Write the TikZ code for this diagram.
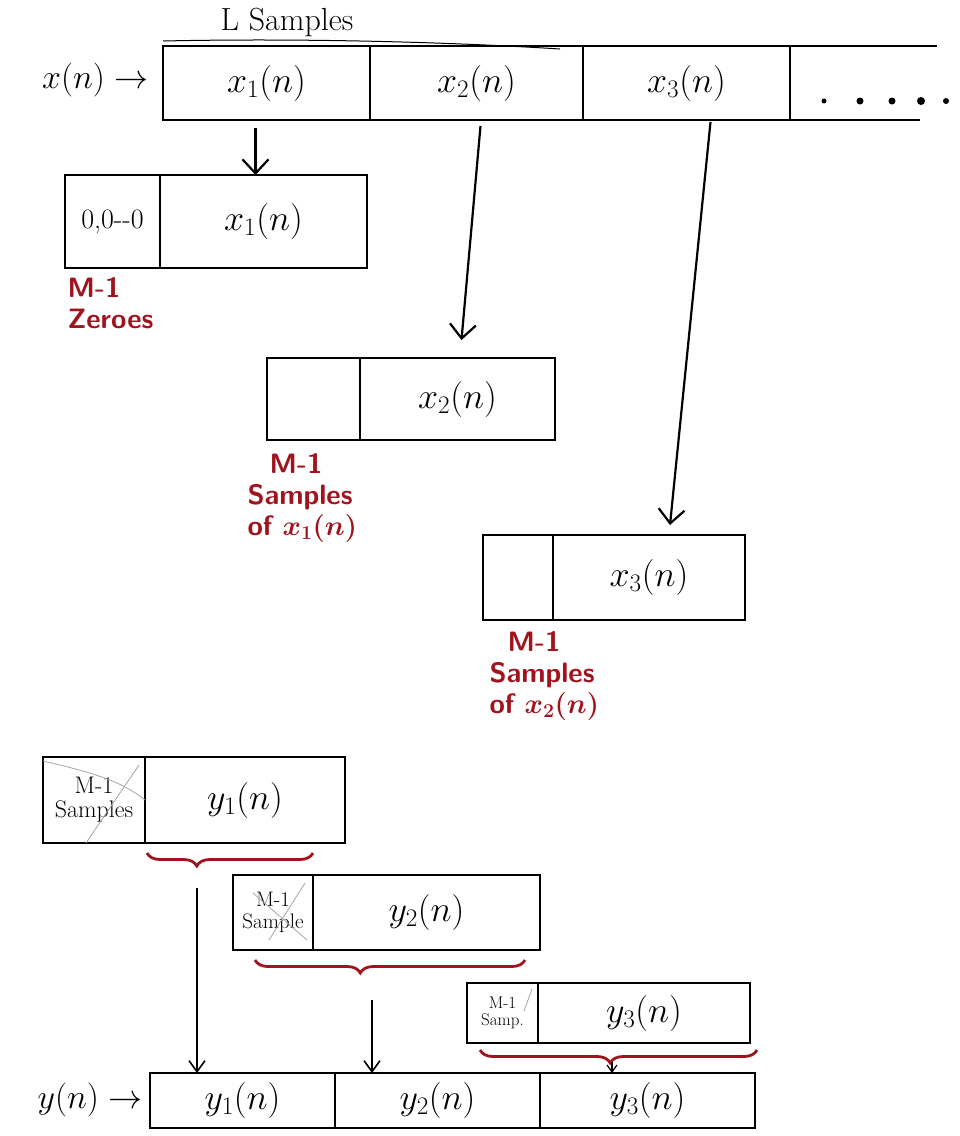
\RequirePackage{fix-cm}
\documentclass[tikz,border=0pt]{standalone}
\usetikzlibrary{arrows.meta,decorations.pathreplacing}
\definecolor{hred}{RGB}{160,20,30}
\definecolor{pencil}{RGB}{165,165,165}
\begin{document}
\begin{tikzpicture}[x=1pt,y=-1pt,
  cell/.style={draw, line width=2.6pt, inner sep=0pt, outer sep=0pt, anchor=north west, font=\fontsize{36}{40}\selectfont},
  smallcell/.style={cell, font=\fontsize{24}{24}\selectfont, align=center},
  lab/.style={font=\fontsize{34}{38}\selectfont},
  redlab/.style={text=hred, font=\fontsize{28}{31}\selectfont\sffamily\bfseries\boldmath, align=left},
  arr/.style={-{Straight Barb[length=14pt,width=26pt,line width=2.2pt]}, line width=2.2pt},
  sarr/.style={-{Straight Barb[length=11pt,width=16pt,line width=1.6pt]}, line width=1.6pt},
  brc/.style={draw=hred, line width=2.8pt, decorate, decoration={brace, mirror, amplitude=13pt, aspect=#1}},
  cross/.style={draw=pencil, line width=0.8pt},
]
\useasboundingbox (0,0) rectangle (960,1136);

% ---------- input sequence strip ----------
\node[font=\fontsize{32}{36}\selectfont] (Ls) at (287,22) {L Samples};
\draw[line width=1pt] (163,41) .. controls (300,38) and (450,42) .. (560,49);
\node[lab, anchor=east] (xin) at (152,80) {$x(n)\rightarrow$};
\node[cell, minimum width=207pt, minimum height=74pt] (x1) at (163,46) {$x_1(n)$};
\node[cell, minimum width=213pt, minimum height=74pt] (x2) at (x1.north east) {$x_2(n)$};
\node[cell, minimum width=207pt, minimum height=74pt] (x3) at (x2.north east) {$x_3(n)$};
\draw[line width=2.6pt] (x3.north east) -- ++(147,0);
\draw[line width=2.6pt] (x3.south east) -- ++(130,0);
\foreach \px/\r in {824/2.5, 860/3.5, 892/3.5, 921/4, 946/3}
  \fill (\px,101) circle (\r pt);

% ---------- block 1 ----------
\node[cell, minimum width=95pt, minimum height=93pt, font=\fontsize{28}{32}\selectfont] (b1l) at (65,175) {0,0-{}-0};
\node[cell, minimum width=207pt, minimum height=93pt] (b1r) at (b1l.north east) {$x_1(n)$};
\node[redlab, anchor=north west] (z1) at (64,274) {M-1\\Zeroes};

% ---------- block 2 ----------
\node[cell, minimum width=93pt, minimum height=82pt] (b2l) at (267,358) {};
\node[cell, minimum width=195pt, minimum height=82pt] (b2r) at (b2l.north east) {$x_2(n)$};
\node[redlab, anchor=north west] (z2) at (244,450) {\hspace*{22pt}M-1\\Samples\\of $x_1(n)$};

% ---------- block 3 ----------
\node[cell, minimum width=70pt, minimum height=85pt] (b3l) at (483,535) {};
\node[cell, minimum width=192pt, minimum height=85pt] (b3r) at (b3l.north east) {$x_3(n)$};
\node[redlab, anchor=north west] (z3) at (486,628) {\hspace*{18pt}M-1\\Samples\\of $x_2(n)$};

% ---------- arrows from the input strip ----------
\draw[arr] ([xshift=-11pt,yshift=-8pt]x1.south) -- ([xshift=-8pt]b1r.north);
\draw[arr] ([xshift=4pt,yshift=-6pt]x2.south) -- ([xshift=4pt,yshift=18pt]b2r.north);
\draw[arr] ([xshift=24pt,yshift=-2pt]x3.south) -- ([xshift=21pt,yshift=10pt]b3r.north);

% ---------- output blocks ----------
\node[smallcell, minimum width=102pt, minimum height=86pt] (y1l) at (43,757) {M-1\\Samples};
\node[cell, minimum width=200pt, minimum height=86pt] (y1r) at (y1l.north east) {$y_1(n)$};
\draw[cross] ([yshift=-4pt]y1l.north west) .. controls (90,772) and (120,780) .. (y1l.east);
\draw[cross] ([xshift=-6pt,yshift=-8pt]y1l.north east) -- ([xshift=-8pt]y1l.south);

\node[smallcell, minimum width=80pt, minimum height=75pt, font=\fontsize{21}{22}\selectfont] (y2l) at (233,875) {M-1\\Sample};
\node[cell, minimum width=227pt, minimum height=75pt] (y2r) at (y2l.north east) {$y_2(n)$};
\draw[cross] ([xshift=-8pt,yshift=-8pt]y2l.north east) -- ([xshift=-4pt,yshift=10pt]y2l.south);
\draw[cross] ([xshift=20pt,yshift=-18pt]y2l.north west) -- ([xshift=-6pt,yshift=10pt]y2l.south east);

\node[smallcell, minimum width=71pt, minimum height=60pt, font=\fontsize{17}{17}\selectfont] (y3l) at (467,983) {M-1\\Samp.};
\node[cell, minimum width=212pt, minimum height=60pt] (y3r) at (y3l.north east) {$y_3(n)$};
\draw[cross] ([xshift=-6pt,yshift=-6pt]y3l.north east) -- ([xshift=-14pt,yshift=-28pt]y3l.north east);

% ---------- braces ----------
\draw[brc=0.3] (147,853) -- (313,853);
\draw[brc=0.39] (255,960) -- (525,960);
\draw[brc=0.47] (480,1050) -- (757,1050);

% ---------- output sequence strip ----------
\node[lab, anchor=east] (yout) at (146,1100) {$y(n)\rightarrow$};
\node[cell, minimum width=185pt, minimum height=55pt] (yb1) at (150,1073) {$y_1(n)$};
\node[cell, minimum width=205pt, minimum height=55pt] (yb2) at (yb1.north east) {$y_2(n)$};
\node[cell, minimum width=215pt, minimum height=55pt] (yb3) at (yb2.north east) {$y_3(n)$};

\coordinate (t1) at (197,888);
\coordinate (t2) at (372,1000);
\coordinate (t3) at (612,1062);
\draw[sarr] (t1) -- (t1 |- yb1.north);
\draw[sarr] (t2) -- (t2 |- yb2.north);
\draw[-{Straight Barb[length=7pt,width=10pt,line width=1.2pt]}, line width=1.2pt] (t3) -- (t3 |- yb3.north);
\end{tikzpicture}
\end{document}
